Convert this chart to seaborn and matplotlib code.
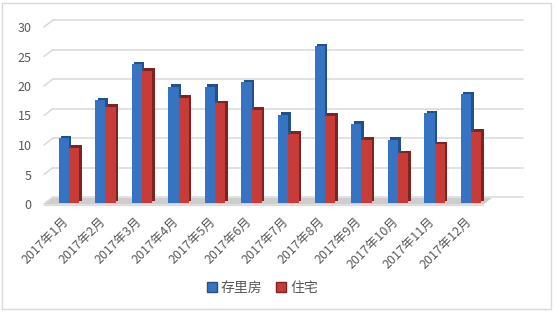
import numpy as np
import pandas as pd
import matplotlib
matplotlib.use("Agg")
import matplotlib.pyplot as plt
import matplotlib.transforms as mtrans
from matplotlib.patches import Rectangle, Polygon, Patch
import seaborn as sns

months = ["2017年1月", "2017年2月", "2017年3月", "2017年4月", "2017年5月", "2017年6月",
          "2017年7月", "2017年8月", "2017年9月", "2017年10月", "2017年11月", "2017年12月"]
stock = [11.0, 17.4, 23.5, 19.7, 19.7, 20.5, 15.0, 26.6, 13.4, 10.7, 15.2, 18.4]
housing = [9.4, 16.3, 22.4, 17.8, 16.9, 15.8, 11.7, 14.8, 10.7, 8.4, 10.0, 12.1]
series = ["存里房", "住宅"]
yticks = [0, 5, 10, 15, 20, 25, 30]

df = pd.DataFrame({
    "month": months * 2,
    "value": stock + housing,
    "series": [series[0]] * len(months) + [series[1]] * len(months),
})

sns.set_style("white")
plt.rcParams["font.family"] = ["Noto Sans CJK SC", "DejaVu Sans"]

front = {"存里房": "#3673c2", "住宅": "#c73b39"}
side = {"存里房": "#23508a", "住宅": "#7e2222"}
textc = "#595959"

fig = plt.figure(figsize=(5.55, 3.12), dpi=100)
ax = fig.add_axes([44 / 555, 108 / 312, 439 / 555, 177 / 312])

sns.barplot(data=df, x="month", y="value", hue="series", palette=front,
            width=0.56, gap=0, saturation=1, legend=False, ax=ax, zorder=3)
ax.set_xlim(-0.5, len(months) - 0.5)
ax.set_ylim(0, 30)

def px(dx, dy):
    return mtrans.ScaledTranslation(dx / 100, dy / 100, fig.dpi_scale_trans)

# fake 3d: shift bars back, add darker side/top copy behind
bars = list(ax.patches)
for i, b in enumerate(bars):
    name = series[0] if i < len(months) else series[1]
    b.set_transform(ax.transData + px(6.5, 1))
    b.set_edgecolor("none")
    shade = Rectangle((b.get_x(), b.get_y()), b.get_width(), b.get_height(),
                      facecolor=side[name], edgecolor="none", zorder=2.9,
                      transform=ax.transData + px(9, 3.5), clip_on=False)
    ax.add_patch(shade)
    b.set_clip_on(False)

# back wall gridlines and left diagonals
for y in yticks:
    ax.plot([-0.5, 12.35], [y, y], color="#d9d9d9", lw=1.1, zorder=1,
            transform=ax.transData + px(9, 7), clip_on=False)
    ax.plot([-0.5, -0.5 + 9 / 36.58], [y, y + 7 / 5.9], color="#d9d9d9", lw=1.1,
            zorder=1, clip_on=False)

# floor
floor = Polygon([(-0.5, -0.1), (11.5, -0.1), (11.5 + 9 / 36.58, 6 / 5.9),
                 (-0.5 + 9 / 36.58, 6 / 5.9)], closed=True, facecolor="#cdcdcd",
                edgecolor="none", zorder=2, clip_on=False)
ax.add_patch(floor)

for s in ["top", "right", "left"]:
    ax.spines[s].set_visible(False)
ax.spines["bottom"].set_color("#d9d9d9")
ax.spines["bottom"].set_position(("outward", 1))

ax.set_yticks(yticks)
ax.tick_params(axis="y", length=0, pad=9, labelsize=9, labelcolor=textc)
ax.set_xticks(range(len(months)))
ax.set_xticklabels(months, rotation=45, ha="right", rotation_mode="anchor")
ax.tick_params(axis="x", which="major", length=0, pad=7, labelsize=9, labelcolor=textc)
ax.set_xticks(np.arange(-0.5, len(months)), minor=True)
ax.tick_params(axis="x", which="minor", length=4, color="#d9d9d9")
ax.set_xlabel("")
ax.set_ylabel("")

handles = [Patch(facecolor=front[n], edgecolor=side[n], label=n) for n in series]
fig.legend(handles=handles, loc="center", bbox_to_anchor=(0.473, 0.077), ncol=2,
           frameon=False, fontsize=10, handlelength=0.7, handleheight=0.7,
           handletextpad=0.3, columnspacing=1.0, labelcolor=textc)

fig.patches.append(Rectangle((2 / 555, 3 / 312), 549 / 555, 306 / 312,
                             transform=fig.transFigure, fill=False,
                             edgecolor="#d9d9d9", lw=1))

fig.savefig("out.png", dpi=100)
